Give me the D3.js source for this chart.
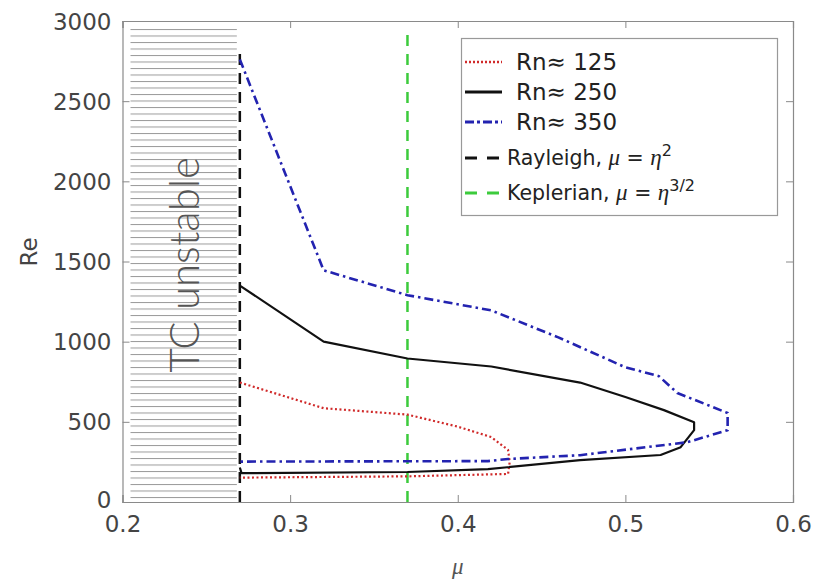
<!DOCTYPE html>
<html>
<head>
<meta charset="utf-8">
<script src="https://cdn.jsdelivr.net/npm/d3@7"></script>
<style>
  body { margin: 0; background: #fff; }
  svg { display: block; }
  .tick text { font-family: "DejaVu Sans", sans-serif; font-size: 23px; fill: #444; }
</style>
</head>
<body>
<svg id="chart" width="816" height="583"></svg>
<script>
// stability boundaries, Re versus mu, for three Rn values
const rn125Mu = [0.27, 0.32, 0.37, 0.40, 0.42, 0.43, 0.431, 0.43, 0.37, 0.27]
const rn125Re = [745, 585, 545, 470, 405, 325, 250, 175, 160, 152]

const rn250Mu = [0.27, 0.32, 0.37, 0.42, 0.473, 0.50, 0.523, 0.541, 0.541, 0.533, 0.521, 0.473, 0.418, 0.37, 0.271, 0.27]
const rn250Re = [1350, 1000, 895, 845, 745, 655, 573, 498, 448, 342, 293, 261, 205, 187, 180, 215]

const rn350Mu = [0.27, 0.32, 0.37, 0.42, 0.46, 0.50, 0.52, 0.531, 0.561, 0.561, 0.537, 0.473, 0.43, 0.418, 0.27]
const rn350Re = [2760, 1445, 1290, 1195, 1027, 840, 785, 680, 555, 448, 373, 292, 268, 255, 252]

// reference lines
const rayleighMu = 0.27
const rayleighRe = [0, 2810]
const keplerianMu = 0.37
const keplerianRe = [0, 2960]

const xTicks = [0.2, 0.3, 0.4, 0.5, 0.6]
const yTicks = [0, 500, 1000, 1500, 2000, 2500, 3000]

const margin = { left: 122.5, right: 23, top: 21, bottom: 81 }
const width = 816
const height = 583

const svg = d3.select('#chart')
const x = d3.scaleLinear().domain([0.2, 0.6]).range([margin.left, width - margin.right])
const y = d3.scaleLinear().domain([0, 3000]).range([height - margin.bottom, margin.top])

// hatched "TC unstable" band left of the Rayleigh line
const defs = svg.append('defs')
defs.append('pattern')
  .attr('id', 'hatch')
  .attr('patternUnits', 'userSpaceOnUse')
  .attr('x', 0).attr('y', 29)
  .attr('width', 10).attr('height', 6.5)
  .append('line')
  .attr('x1', 0).attr('x2', 10)
  .attr('y1', 0.5).attr('y2', 0.5)
  .attr('stroke', '#9a9a9a')
  .attr('stroke-width', 1)

svg.append('rect')
  .attr('x', x(0.2) + 8)
  .attr('y', y(3000) + 7.5)
  .attr('width', x(rayleighMu) - x(0.2) - 11)
  .attr('height', y(0) - y(3000) - 8)
  .attr('fill', 'url(#hatch)')

svg.append('text')
  .attr('transform', `translate(${x(0.2) + 76},${y(1480)}) rotate(-90)`)
  .attr('text-anchor', 'middle')
  .attr('font-family', 'Lato, sans-serif')
  .attr('font-weight', 300)
  .attr('font-size', 42)
  .attr('fill', '#555')
  .text('TC unstable')

// axes, MATLAB style: ticks inside, box all round
const axisColor = '#8a8a8a'
const gx = svg.append('g')
  .attr('transform', `translate(0,${y(0)})`)
  .call(d3.axisBottom(x).tickValues(xTicks).tickFormat(d3.format('.1f')).tickSize(-7).tickPadding(14))
const gy = svg.append('g')
  .attr('transform', `translate(${x(0.2)},0)`)
  .call(d3.axisLeft(y).tickValues(yTicks).tickFormat(d3.format('d')).tickSize(-7).tickPadding(11))
const gt = svg.append('g')
  .attr('transform', `translate(0,${y(3000)})`)
  .call(d3.axisTop(x).tickValues(xTicks).tickSize(-7).tickFormat(''))
const gr = svg.append('g')
  .attr('transform', `translate(${x(0.6)},0)`)
  .call(d3.axisRight(y).tickValues(yTicks).tickSize(-7).tickFormat(''))

for (const g of [gx, gy, gt, gr]) {
  g.select('.domain').attr('stroke', axisColor).attr('stroke-width', 1.2)
  g.selectAll('.tick line').attr('stroke', axisColor)
}
gy.selectAll('.tick text').attr('dy', d => d === 0 ? '0.25em' : '0.35em')

svg.append('text')
  .attr('transform', `translate(37,${y(1560)}) rotate(-90)`)
  .attr('text-anchor', 'middle')
  .attr('font-family', '"DejaVu Sans", sans-serif')
  .attr('font-size', 23)
  .attr('fill', '#444')
  .text('Re')

svg.append('text')
  .attr('x', x(0.4))
  .attr('y', 574)
  .attr('text-anchor', 'middle')
  .attr('font-family', '"Liberation Serif", serif')
  .attr('font-style', 'italic')
  .attr('font-size', 23)
  .attr('fill', '#555')
  .text('μ')

// reference lines
svg.append('line')
  .attr('x1', x(rayleighMu)).attr('x2', x(rayleighMu))
  .attr('y1', y(rayleighRe[0])).attr('y2', y(rayleighRe[1]))
  .attr('stroke', '#111').attr('stroke-width', 2.5)
  .attr('stroke-dasharray', '11 8')

svg.append('line')
  .attr('x1', x(keplerianMu)).attr('x2', x(keplerianMu))
  .attr('y1', y(keplerianRe[0])).attr('y2', y(keplerianRe[1]))
  .attr('stroke', '#3ccb3c').attr('stroke-width', 2.5)
  .attr('stroke-dasharray', '11 8')

// boundary curves
const series = [
  { mu: rn125Mu, re: rn125Re, color: '#d02a2a', width: 2.2, dash: '2 2.5' },
  { mu: rn250Mu, re: rn250Re, color: '#111', width: 2.2, dash: null },
  { mu: rn350Mu, re: rn350Re, color: '#2323b0', width: 2.6, dash: '9 4 2.5 4' }
]
const line = d3.line().x(d => x(d[0])).y(d => y(d[1]))

svg.selectAll('.curve')
  .data(series)
  .enter()
  .append('path')
  .attr('class', 'curve')
  .attr('d', s => line(d3.zip(s.mu, s.re)))
  .attr('fill', 'none')
  .attr('stroke', s => s.color)
  .attr('stroke-width', s => s.width)
  .attr('stroke-dasharray', s => s.dash)
  .attr('stroke-linejoin', 'round')

// legend
const legend = svg.append('g')
legend.append('rect')
  .attr('x', 461.5).attr('y', 38.5)
  .attr('width', 316).attr('height', 177)
  .attr('fill', '#fff')
  .attr('stroke', '#999')
  .attr('stroke-width', 1.2)

const legendItems = [
  { color: '#d02a2a', width: 2.5, dash: '2 2', label: ['Rn≈ 125'] },
  { color: '#111', width: 2.8, dash: null, label: ['Rn≈ 250'] },
  { color: '#2323b0', width: 3, dash: '9 3 3 3', label: ['Rn≈ 350'] },
  { color: '#111', width: 2.8, dash: '12 10', label: ['Rayleigh, ', 'μ', ' = ', 'η', '2'] },
  { color: '#3ccb3c', width: 2.8, dash: '12 10', label: ['Keplerian, ', 'μ', ' = ', 'η', '3/2'] }
]
const rowY = [62, 92, 122, 158, 193]

legendItems.forEach((item, i) => {
  const ly = rowY[i]
  legend.append('line')
    .attr('x1', 465).attr('x2', 502)
    .attr('y1', ly).attr('y2', ly)
    .attr('stroke', item.color)
    .attr('stroke-width', item.width)
    .attr('stroke-dasharray', item.dash)
  const t = legend.append('text')
    .attr('x', item.label.length > 1 ? 507 : 516)
    .attr('y', ly)
    .attr('dy', '0.36em')
    .attr('font-family', '"DejaVu Sans", sans-serif')
    .attr('font-size', item.label.length > 1 ? 20.5 : 23)
    .attr('fill', '#222')
  if (item.label.length === 1) {
    t.text(item.label[0])
  } else {
    const [pre, mu, eq, eta, sup] = item.label
    t.append('tspan').text(pre)
    t.append('tspan').attr('font-family', '"Liberation Serif", serif').attr('font-style', 'italic').attr('font-size', 23).text(mu)
    t.append('tspan').text(eq)
    t.append('tspan').attr('font-family', '"Liberation Serif", serif').attr('font-style', 'italic').attr('font-size', 23).text(eta)
    t.append('tspan').attr('font-size', 16).attr('dy', '-0.6em').text(sup)
  }
})
</script>
</body>
</html>
